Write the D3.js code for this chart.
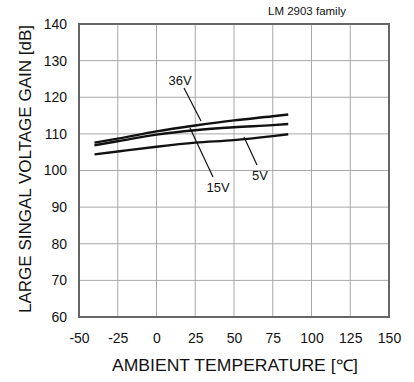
<!DOCTYPE html>
<html>
<head>
<meta charset="utf-8">
<script src="https://cdn.jsdelivr.net/npm/d3@7/dist/d3.min.js"></script>
<style>
  body { margin: 0; background: #fff; }
  svg { display: block; font-family: "Liberation Sans", Arial, sans-serif; }
</style>
</head>
<body>
<svg id="chart" width="414" height="382"></svg>
<script>
const temps = [-40, -25, 0, 25, 50, 75, 85];
const gain36V = [107.6, 108.7, 110.7, 112.3, 113.7, 114.8, 115.3];
const gain15V = [106.9, 108.0, 109.8, 111.0, 111.8, 112.4, 112.7];
const gain5V  = [104.4, 105.2, 106.5, 107.6, 108.3, 109.4, 109.9];
const xTicks = [-50, -25, 0, 25, 50, 75, 100, 125, 150];
const yTicks = [60, 70, 80, 90, 100, 110, 120, 130, 140];
const seriesLabels = ["36V", "15V", "5V"];

const svg = d3.select("#chart");
const m = { left: 79, right: 389, top: 24, bottom: 317 };
const x = d3.scaleLinear().domain([-50, 150]).range([m.left, m.right]);
const y = d3.scaleLinear().domain([60, 140]).range([m.bottom, m.top]);

// grid
const grid = svg.append("g");
grid.selectAll(".vx").data(xTicks).enter().append("line")
  .attr("x1", d => x(d)).attr("x2", d => x(d))
  .attr("y1", m.top).attr("y2", m.bottom)
  .attr("stroke", "#a8a8a8").attr("stroke-width", 1);
grid.selectAll(".hy").data(yTicks).enter().append("line")
  .attr("x1", m.left).attr("x2", m.right)
  .attr("y1", d => y(d)).attr("y2", d => y(d))
  .attr("stroke", "#a8a8a8").attr("stroke-width", 1);

// border
svg.append("rect").attr("x", m.left).attr("y", m.top)
  .attr("width", m.right - m.left).attr("height", m.bottom - m.top)
  .attr("fill", "none").attr("stroke", "#666").attr("stroke-width", 2);

// axes (labels only)
const xAxis = d3.axisBottom(x).tickValues(xTicks).tickSize(0).tickPadding(0).tickFormat(d => String(d));
const gx = svg.append("g").attr("transform", `translate(0,${m.bottom + 16})`).call(xAxis);
gx.select(".domain").remove();
gx.selectAll("text").attr("font-size", 14).attr("fill", "#111").attr("font-family", "Liberation Sans, Arial, sans-serif");

const yAxis = d3.axisLeft(y).tickValues(yTicks).tickSize(0).tickPadding(12).tickFormat(d => String(d));
const gy = svg.append("g").attr("transform", `translate(${m.left},0)`).call(yAxis);
gy.select(".domain").remove();
gy.selectAll("text").attr("font-size", 14).attr("fill", "#111").attr("font-family", "Liberation Sans, Arial, sans-serif");

// curves
const line = d3.line().x((d, i) => x(temps[i])).y(d => y(d)).curve(d3.curveMonotoneX);
[gain36V, gain15V, gain5V].forEach(s => {
  svg.append("path").attr("d", line(s))
    .attr("fill", "none").attr("stroke", "#111").attr("stroke-width", 2.4);
});

// annotations
const ann = [
  { t: seriesLabels[0], tx: 180, ty: 85, x1: 184, y1: 88, x2: 201, y2: 121 },
  { t: seriesLabels[1], tx: 218, ty: 192, x1: 190, y1: 128, x2: 213, y2: 177 },
  { t: seriesLabels[2], tx: 260, ty: 180, x1: 244, y1: 137, x2: 257, y2: 165 }
];
ann.forEach(a => {
  svg.append("line").attr("x1", a.x1).attr("y1", a.y1).attr("x2", a.x2).attr("y2", a.y2)
    .attr("stroke", "#111").attr("stroke-width", 1.2);
  svg.append("text").attr("x", a.tx).attr("y", a.ty).attr("text-anchor", "middle")
    .attr("font-size", 13).attr("fill", "#111").text(a.t);
});

// title
svg.append("text").attr("x", 307).attr("y", 15).attr("text-anchor", "middle")
  .attr("font-size", 11.5).attr("fill", "#111").text("LM 2903 family");

// axis titles
svg.append("text").attr("x", 235).attr("y", 371).attr("text-anchor", "middle")
  .attr("font-size", 16).attr("fill", "#111")
  .attr("textLength", 246).attr("lengthAdjust", "spacingAndGlyphs")
  .text("AMBIENT TEMPERATURE [℃]");
svg.append("text").attr("transform", `translate(31,169) rotate(-90)`)
  .attr("text-anchor", "middle").attr("font-size", 16).attr("fill", "#111")
  .attr("textLength", 288).attr("lengthAdjust", "spacingAndGlyphs")
  .text("LARGE SINGAL VOLTAGE GAIN [dB]");
</script>
</body>
</html>
